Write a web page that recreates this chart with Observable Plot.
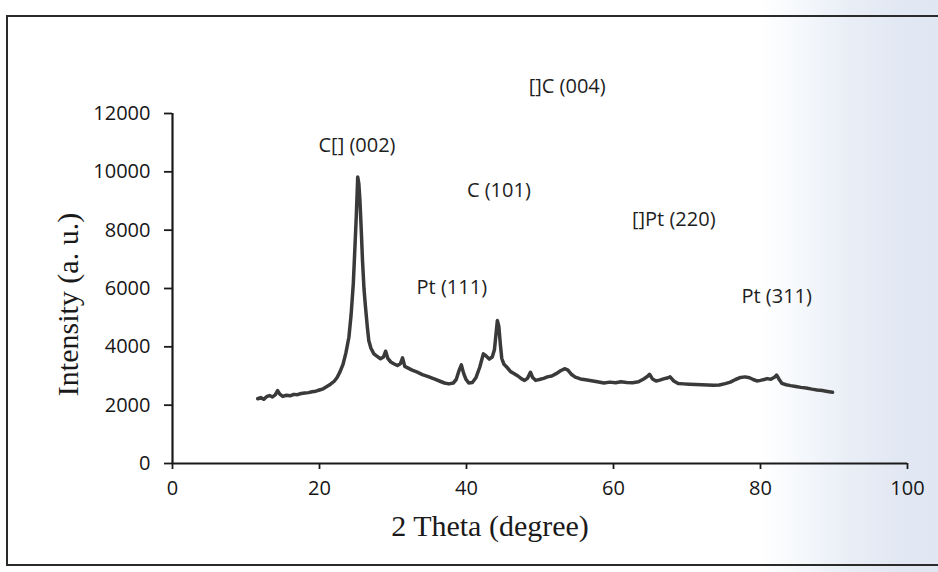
<!DOCTYPE html>
<html>
<head>
<meta charset="utf-8">
<script src="https://cdn.jsdelivr.net/npm/d3@7"></script>
<script src="https://cdn.jsdelivr.net/npm/@observablehq/plot@0.6"></script>
<style>
  html, body { margin: 0; padding: 0; width: 938px; height: 572px; overflow: hidden; }
  body { background: linear-gradient(to right, #ffffff 0px, #ffffff 760px, #f4f7fb 805px, #e9eef6 850px, #e2e8f3 900px, #e0e7f2 938px); }
  #border { position: absolute; left: 6px; top: 15px; width: 960px; height: 551px; border: 2px solid #2a2a2a; border-right: none; box-sizing: border-box; }
  #chart { position: absolute; left: 0; top: 0; }
</style>
</head>
<body>
<div id="border"></div>
<div id="chart"></div>
<script>
const theta = [11.6,12.0,12.4,12.8,13.2,13.6,14.0,14.3,14.6,15.0,15.5,16.0,16.5,17.0,17.5,18.0,18.5,19.0,19.5,20.0,20.5,21.0,21.5,22.0,22.4,22.8,23.2,23.6,24.0,24.3,24.6,24.8,25.0,25.2,25.35,25.5,25.7,25.85,26.05,26.26,26.5,26.7,27.0,27.4,27.8,28.3,28.7,29.0,29.3,29.7,30.1,30.6,31.0,31.3,31.6,32.0,32.6,33.3,34.0,34.8,35.6,36.4,37.0,37.6,38.2,38.6,39.0,39.3,39.6,39.9,40.3,40.8,41.3,41.8,42.3,42.7,43.1,43.5,43.8,44.0,44.2,44.4,44.6,44.8,45.1,45.5,46.0,46.5,47.0,47.5,47.9,48.3,48.7,49.0,49.4,49.9,50.5,51.0,51.6,52.2,52.8,53.4,53.8,54.3,54.8,55.5,56.2,57.0,57.8,58.7,59.5,60.3,61.0,61.8,62.6,63.4,64.1,64.6,64.9,65.3,65.8,66.3,66.8,67.3,67.7,68.2,68.8,69.5,70.3,71.2,72.0,72.8,73.6,74.4,75.2,75.9,76.6,77.3,77.9,78.5,79.0,79.5,80.0,80.5,80.9,81.4,81.9,82.2,82.5,82.9,83.5,84.1,84.8,85.5,86.2,87.0,87.7,88.4,89.1,89.8];
const intensity = [2220,2260,2200,2290,2330,2280,2360,2500,2380,2300,2340,2320,2370,2360,2400,2420,2430,2460,2480,2520,2560,2640,2720,2820,2950,3150,3400,3800,4330,5100,6170,7300,8450,9820,9600,9020,7900,6960,6000,5360,4700,4220,3950,3760,3680,3590,3650,3850,3600,3480,3420,3360,3420,3620,3330,3280,3200,3130,3050,2980,2900,2820,2760,2730,2760,2880,3200,3380,3100,2900,2760,2780,2950,3300,3760,3680,3580,3650,3900,4400,4900,4700,4100,3600,3400,3300,3150,3080,3000,2900,2850,2920,3130,2950,2850,2880,2920,2970,3000,3080,3180,3250,3200,3050,2960,2900,2870,2840,2800,2760,2790,2770,2800,2780,2770,2800,2900,2980,3060,2900,2830,2860,2900,2930,2970,2830,2740,2730,2720,2710,2700,2690,2680,2690,2740,2790,2880,2950,2970,2940,2880,2830,2850,2880,2910,2890,2960,3030,2900,2750,2700,2670,2640,2610,2590,2550,2520,2500,2470,2440];

const xTicks = [0, 20, 40, 60, 80, 100];
const yTicks = [0, 2000, 4000, 6000, 8000, 10000, 12000];

const peakLabels = ["C[] (002)", "[]C (004)", "C (101)", "[]Pt (220)", "Pt (111)", "Pt (311)"];
const peakLabelX = [25.1, 53.7, 44.4, 68.2, 38.0, 82.2];
const peakLabelY = [10900, 12930, 9360, 8370, 6035, 5730];

const xTitle = "2 Theta (degree)";
const yTitle = "Intensity (a. u.)";

const data = theta.map((t, i) => ({theta: t, intensity: intensity[i]}));
const labels = peakLabels.map((s, i) => ({text: s, x: peakLabelX[i], y: peakLabelY[i]}));

const sans = "'Open Sans', 'Noto Sans', sans-serif";
const serif = "'Liberation Serif', 'DejaVu Serif', serif";

const chart = Plot.plot({
  width: 938,
  height: 572,
  marginLeft: 172,
  marginRight: 31,
  marginTop: 113,
  marginBottom: 109,
  style: {background: "transparent", overflow: "visible"},
  x: {domain: [0, 100]},
  y: {domain: [0, 12000]},
  marks: [
    Plot.axisY({ticks: yTicks, tickSize: 8, tickPadding: 14, fontSize: 20, fontFamily: sans, tickFormat: d3.format("d"), label: null, stroke: "#1a1a1a", strokeWidth: 1.8, fill: "#161616"}),
    Plot.axisX({ticks: xTicks, tickSize: 6, tickPadding: 11, fontSize: 20, fontFamily: sans, tickFormat: d3.format("d"), label: null, stroke: "#1a1a1a", strokeWidth: 1.8, fill: "#161616"}),
    Plot.ruleX([0], {stroke: "#1a1a1a", strokeWidth: 2.2}),
    Plot.ruleY([0], {stroke: "#1a1a1a", strokeWidth: 2.2}),
    Plot.line(data, {x: "theta", y: "intensity", stroke: "#3a3a3a", strokeWidth: 3.5, strokeLinejoin: "round"}),
    Plot.text(labels, {x: "x", y: "y", text: "text", fontSize: 20, fontFamily: sans, fill: "#1e1e1e", textAnchor: "middle", lineAnchor: "middle"}),
    Plot.text([xTitle], {frameAnchor: "bottom", dx: -50, dy: 63, fontSize: 30, fontFamily: serif, fill: "#1a1a1a", textAnchor: "middle", lineAnchor: "middle"}),
    Plot.text([yTitle], {frameAnchor: "left", rotate: -90, dx: -104, dy: 16, fontSize: 30, fontFamily: serif, fill: "#1a1a1a", textAnchor: "middle", lineAnchor: "middle"})
  ]
});
document.getElementById("chart").appendChild(chart);
</script>
</body>
</html>
